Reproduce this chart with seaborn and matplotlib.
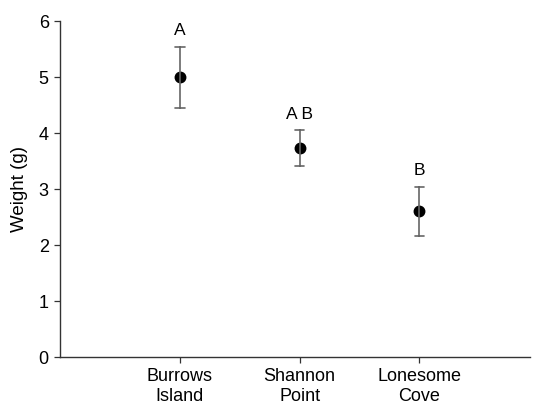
import numpy as np
import pandas as pd
import matplotlib
matplotlib.use("Agg")
import matplotlib.pyplot as plt
import seaborn as sns

sites = ["Burrows\nIsland", "Shannon\nPoint", "Lonesome\nCove"]
means = [5.00, 3.73, 2.61]
lower = [4.45, 3.41, 2.17]
upper = [5.54, 4.05, 3.04]
letters = ["A", "A B", "B"]
yticks = [0, 1, 2, 3, 4, 5, 6]

sns.set_style("ticks")
plt.rcParams["font.family"] = ["Liberation Sans", "DejaVu Sans"]
plt.rcParams["text.color"] = "black"
plt.rcParams["axes.labelcolor"] = "black"
plt.rcParams["xtick.color"] = "black"
plt.rcParams["ytick.color"] = "black"

rows = []
for s, lo, m, hi in zip(sites, lower, means, upper):
    for v in (lo, m, hi):
        rows.append({"site": s, "w": v})
df = pd.DataFrame(rows)

fig = plt.figure(figsize=(5.35, 4.04), dpi=100)
ax = fig.add_axes([0.112, 0.116, 0.878, 0.832])

sns.pointplot(data=df, x="site", y="w", estimator=np.median,
              errorbar=lambda v: (v.min(), v.max()),
              linestyle="none", color="black", markersize=6.5,
              capsize=0.08, err_kws={"color": "#666666", "linewidth": 1.2},
              ax=ax)

for i, (lab, hi) in enumerate(zip(letters, upper)):
    ax.text(i, hi + 0.15, lab, ha="center", va="bottom", fontsize=12.5)

ax.set_ylim(0, 6)
ax.set_xlim(-1.0, 2.92)
ax.set_yticks(yticks)
ax.set_ylabel("Weight (g)", fontsize=13.5, labelpad=8)
ax.set_xlabel("")
ax.tick_params(axis="both", labelsize=13, length=4.5, width=0.9, color="#333333")
ax.tick_params(axis="x", pad=3)
for t in ax.get_xticklabels():
    t.set_linespacing(1.3)
for sp in ["top", "right"]:
    ax.spines[sp].set_visible(False)
for sp in ["left", "bottom"]:
    ax.spines[sp].set_color("#333333")
    ax.spines[sp].set_linewidth(1.0)

fig.savefig("out.png", dpi=100)
